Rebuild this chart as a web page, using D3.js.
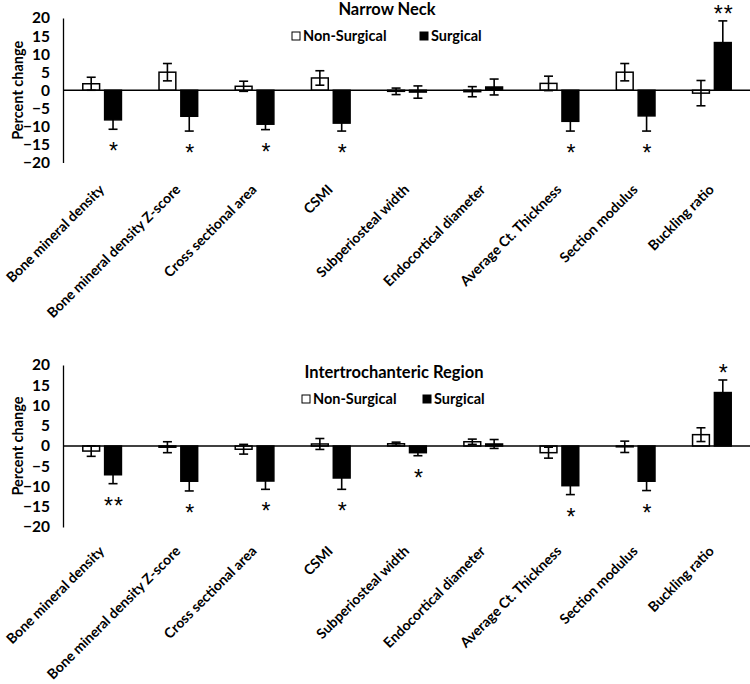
<!DOCTYPE html>
<html><head><meta charset="utf-8">
<script src="https://cdn.jsdelivr.net/npm/d3@7"></script>
<style>body{margin:0;background:#fff}svg{display:block}</style>
</head><body>
<script>
const categories = ["Bone mineral density","Bone mineral density Z-score","Cross sectional area","CSMI","Subperiosteal width","Endocortical diameter","Average Ct. Thickness","Section modulus","Buckling ratio"];
const seriesNames = ["Non-Surgical","Surgical"];
const yTicks = [20,15,10,5,0,-5,-10,-15,-20];

// Narrow Neck
const nnNonSurgical    = [1.8, 5.0, 1.1, 3.4, -0.3, -0.4, 1.9, 5.0, -0.8];
const nnNonSurgicalErr = [1.8, 2.4, 1.4, 2.0, 0.9, 1.4, 2.0, 2.4, 3.5];
const nnSurgical       = [-8.2, -7.2, -9.4, -9.1, -0.5, 0.9, -8.6, -7.1, 13.2];
const nnSurgicalErr    = [2.6, 4.1, 1.5, 2.2, 1.7, 2.2, 2.7, 4.2, 6.0];
const nnSig            = ["*","*","*","*","","","*","*","**"];

// Intertrochanteric Region
const itNonSurgical    = [-1.25, -0.3, -0.8, 0.5, 0.55, 1.05, -1.65, -0.2, 2.8];
const itNonSurgicalErr = [1.3, 1.35, 1.2, 1.35, 0.4, 0.65, 1.35, 1.4, 1.7];
const itSurgical       = [-7.1, -8.7, -8.65, -7.9, -1.65, 0.5, -9.8, -8.7, 13.2];
const itSurgicalErr    = [2.2, 2.4, 2.05, 2.8, 0.75, 1.1, 2.2, 2.3, 3.1];
const itSig            = ["**","*","*","*","*","","*","*","*"];

const W = 750, H = 684;
const svg = d3.select("body").append("svg").attr("width", W).attr("height", H);
const FONT = "Lato, 'Open Sans', sans-serif";

function panel(o) {
  const g = svg.append("g");
  const y = d3.scaleLinear().domain([-20, 20]).range([o.yBottom, o.yTop]);
  const x = d3.scaleBand().domain(categories).range([64, 750]);
  const x1 = d3.scaleBand().domain(seriesNames).range([0, x.bandwidth()]).paddingInner(0.23).paddingOuter(0.86);

  // y axis
  const ya = g.append("g").attr("transform", "translate(63,0)")
    .call(d3.axisLeft(y).tickValues(yTicks).tickSize(0).tickPadding(13).tickFormat(d3.format("d")));
  ya.select(".domain").attr("stroke", "#000").attr("stroke-width", 1.3);
  ya.selectAll("text").attr("font-family", FONT).attr("font-weight", "bold").attr("font-size", 15.5).attr("fill", "#000");

  // x labels at bottom
  const xa = g.append("g").attr("transform", `translate(0,${y(-20)})`)
    .call(d3.axisBottom(x).tickSize(0).tickPadding(0));
  xa.select(".domain").remove();
  xa.selectAll("text")
    .attr("font-family", FONT).attr("font-weight", "bold").attr("font-size", 14).attr("fill", "#000")
    .attr("text-anchor", "end").attr("dy", 0).attr("y", 0)
    .attr("transform", `translate(3,${o.labOff}) rotate(-45)`);

  const rows = categories.map((c, i) => ({
    c, vals: [
      {s: "Non-Surgical", v: o.ns[i], e: o.nsErr[i]},
      {s: "Surgical", v: o.su[i], e: o.suErr[i]}
    ], sig: o.sig[i]
  }));

  const cg = g.selectAll(".cat").data(rows).join("g").attr("transform", d => `translate(${x(d.c)},0)`);
  cg.selectAll("rect").data(d => d.vals).join("rect")
    .attr("x", d => x1(d.s)).attr("width", x1.bandwidth())
    .attr("y", d => y(Math.max(0, d.v))).attr("height", d => Math.abs(y(d.v) - y(0)))
    .attr("fill", d => d.s === "Surgical" ? "#000" : "#fff")
    .attr("stroke", "#000").attr("stroke-width", 1.5);

  // zero line
  g.append("line").attr("x1", 64).attr("x2", 750).attr("y1", y(0)).attr("y2", y(0))
    .attr("stroke", "#000").attr("stroke-width", 1.5);

  // error bars
  const eb = cg.selectAll(".eb").data(d => d.vals).join("g").attr("class", "eb");
  eb.append("line").attr("x1", d => x1(d.s) + x1.bandwidth() / 2).attr("x2", d => x1(d.s) + x1.bandwidth() / 2)
    .attr("y1", d => y(d.v + d.e)).attr("y2", d => y(d.v - d.e));
  eb.append("line").attr("x1", d => x1(d.s) + x1.bandwidth() / 2 - 4.5).attr("x2", d => x1(d.s) + x1.bandwidth() / 2 + 4.5)
    .attr("y1", d => y(d.v + d.e)).attr("y2", d => y(d.v + d.e));
  eb.append("line").attr("x1", d => x1(d.s) + x1.bandwidth() / 2 - 4.5).attr("x2", d => x1(d.s) + x1.bandwidth() / 2 + 4.5)
    .attr("y1", d => y(d.v - d.e)).attr("y2", d => y(d.v - d.e));
  eb.selectAll("line").attr("stroke", "#000").attr("stroke-width", 1.6);

  // significance
  cg.filter(d => d.sig).append("text")
    .attr("x", x1("Surgical") + x1.bandwidth() / 2 + 1)
    .attr("y", d => {
      const s = d.vals[1];
      return s.v >= 0 ? y(s.v + s.e) + 1 : y(s.v - s.e) + 30;
    })
    .attr("text-anchor", "middle")
    .attr("font-family", "'Liberation Sans', Arial, sans-serif").attr("font-size", 23)
    .attr("letter-spacing", 1)
    .text(d => d.sig);

  // title
  g.append("text").attr("x", o.titleX).attr("y", o.titleY).attr("text-anchor", "middle")
    .attr("font-family", FONT).attr("font-weight", "bold").attr("font-size", 16.5).text(o.title);

  // legend
  const lg = g.append("g").attr("transform", `translate(${o.legX},${o.legY})`);
  const li = lg.selectAll("g").data(seriesNames).join("g").attr("transform", (d, i) => `translate(${i * o.legGap},0)`);
  li.append("rect").attr("x", 0).attr("y", -4).attr("width", 8).attr("height", 8)
    .attr("fill", d => d === "Surgical" ? "#000" : "#fff").attr("stroke", "#000").attr("stroke-width", 1);
  li.append("text").attr("x", 11).attr("y", 5).attr("font-family", FONT).attr("font-weight", "bold")
    .attr("font-size", 14.5).text(d => d);

  // y title
  g.append("text").attr("transform", `translate(23,${(o.yTop + o.yBottom) / 2}) rotate(-90)`)
    .attr("text-anchor", "middle").attr("font-family", FONT).attr("font-weight", "bold").attr("font-size", 14.5)
    .text("Percent change");
}

panel({yTop: 18, yBottom: 162.5, ns: nnNonSurgical, nsErr: nnNonSurgicalErr, su: nnSurgical, suErr: nnSurgicalErr, sig: nnSig,
  title: "Narrow Neck", titleX: 387, titleY: 15, legX: 292, legY: 36, legGap: 128, labOff: 28});
panel({yTop: 365, yBottom: 527, ns: itNonSurgical, nsErr: itNonSurgicalErr, su: itSurgical, suErr: itSurgicalErr, sig: itSig,
  title: "Intertrochanteric Region", titleX: 394, titleY: 378, legX: 302, legY: 399, legGap: 121, labOff: 25});
</script>
</body></html>
